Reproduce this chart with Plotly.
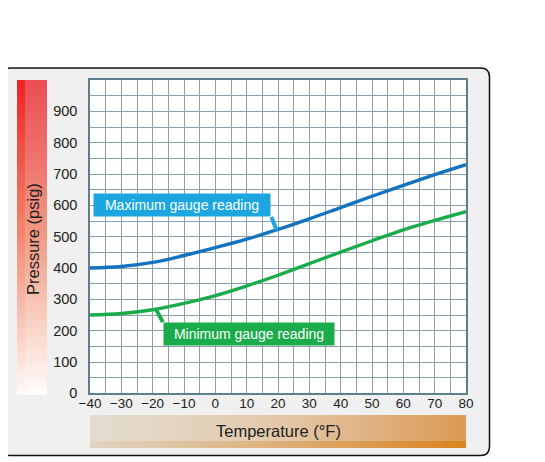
import numpy as np
import plotly.graph_objects as go

# chart data
temps_f = [-40, -30, -20, -10, 0, 10, 20, 30, 40, 50, 60, 70, 80]
max_gauge = [400, 405, 418, 440, 465, 492, 523, 557, 593, 629, 664, 698, 730]
min_gauge = [250, 255, 267, 287, 312, 343, 377, 414, 451, 487, 522, 552, 580]

x_ticks = [-40, -30, -20, -10, 0, 10, 20, 30, 40, 50, 60, 70, 80]
x_tick_labels = ["\u221240", "\u221230", "\u221220", "\u221210", "0", "10", "20",
                 "30", "40", "50", "60", "70", "80"]
y_ticks = [0, 100, 200, 300, 400, 500, 600, 700, 800, 900]
y_tick_labels = ["0", "100", "200", "300", "400", "500", "600", "700", "800", "900"]

W, H = 545, 462
OFF = 8  # the page body has an 8px margin, so layout positions are shifted back by it
FONT = "Liberation Sans, Arial, sans-serif"
GRID = "#8a9eab"
BLUE = "#1273c0"
BLUE_BOX = "#1ba6e0"
GREEN = "#1aab4b"


def px(x):
    return (x - OFF) / W


def py(y):
    return 1 - (y - OFF) / H


fig = go.Figure()

# the two curves
fig.add_trace(go.Scatter(x=temps_f, y=max_gauge, mode="lines", line=dict(color=BLUE, width=3.4, shape="spline"),
                         name="Maximum gauge reading", hoverinfo="skip"))
fig.add_trace(go.Scatter(x=temps_f, y=min_gauge, mode="lines", line=dict(color=GREEN, width=3.4, shape="spline"),
                         name="Minimum gauge reading", hoverinfo="skip"))

# gradient bars behind the axis titles: main part uses z in [0,1],
# the saturated strip uses z in [1.2,2.2] so the two ranges never blend
n = 80
t = np.linspace(0, 1, n)
zmax = 2.2
s0 = 1.2 / zmax
m1 = 1 / zmax

z_red = np.column_stack([1.2 + t, t])
fig.add_trace(go.Heatmap(
    z=z_red, x=[0, 8, 30], y=np.linspace(0, 1, n + 1), xaxis="x2", yaxis="y2",
    zmin=0, zmax=zmax, showscale=False, hoverinfo="skip",
    colorscale=[[0, "#fffcfb"], [0.2 * m1, "#fad6ca"], [0.5 * m1, "#f29b85"], [m1, "#eb4e55"],
                [s0, "#fff8f6"], [s0 + 0.5 * (1 - s0), "#f28a70"], [1, "#ee2326"]]))

z_org = np.vstack([1.2 + t, t])
fig.add_trace(go.Heatmap(
    z=z_org, x=np.linspace(0, 1, n + 1), y=[0, 7, 33], xaxis="x3", yaxis="y3",
    zmin=0, zmax=zmax, showscale=False, hoverinfo="skip",
    colorscale=[[0, "#e4ddd1"], [0.5 * m1, "#e3c9aa"], [m1, "#dc9b57"],
                [s0, "#e0d4c2"], [s0 + 0.5 * (1 - s0), "#ddb07a"], [1, "#d9841f"]]))

# rounded frame
x0, x1, y0, y1, r = 1.5, 489.5, 68, 455.5, 9
frame = (f"M {px(x0 + r)},{py(y0)} L {px(x1 - r)},{py(y0)} Q {px(x1)},{py(y0)} {px(x1)},{py(y0 + r)} "
         f"L {px(x1)},{py(y1 - r)} Q {px(x1)},{py(y1)} {px(x1 - r)},{py(y1)} "
         f"L {px(x0 + r)},{py(y1)} Q {px(x0)},{py(y1)} {px(x0)},{py(y1 - r)} "
         f"L {px(x0)},{py(y0 + r)} Q {px(x0)},{py(y0)} {px(x0 + r)},{py(y0)} Z")
fig.add_shape(type="path", path=frame, xref="paper", yref="paper", layer="below",
              fillcolor="#eff0ef", line=dict(color="#111111", width=1.5))
fig.add_shape(type="rect", xref="x", yref="y", x0=-40, x1=80, y0=0, y1=1000, layer="below",
              fillcolor="white", line=dict(width=0))

# callouts
mx = 19.5
fig.add_annotation(x=mx, y=float(np.interp(mx, temps_f, max_gauge)), ax=-5, ay=-13,
                   text="Maximum gauge reading", showarrow=True, arrowhead=0, arrowwidth=4,
                   arrowcolor=BLUE_BOX, xanchor="right", yanchor="bottom", standoff=0,
                   bgcolor=BLUE_BOX, width=174, height=20, align="center",
                   font=dict(family=FONT, size=14, color="white"))
mn = -19
fig.add_annotation(x=mn, y=float(np.interp(mn, temps_f, min_gauge)), ax=7, ay=13,
                   text="Minimum gauge reading", showarrow=True, arrowhead=0, arrowwidth=4,
                   arrowcolor=GREEN, xanchor="left", yanchor="top", standoff=0,
                   bgcolor=GREEN, width=168, height=20, align="center",
                   font=dict(family=FONT, size=14, color="white"))

# axis titles inside the gradient bars
fig.add_annotation(x=px(33), y=py(239), xref="paper", yref="paper", text="Pressure (psig)",
                   xanchor="center", yanchor="middle", textangle=-90, showarrow=False,
                   font=dict(family=FONT, size=16.5, color="#222222"))
fig.add_annotation(x=px(278), y=py(431), xref="paper", yref="paper", text="Temperature (\u00b0F)",
                   xanchor="center", yanchor="middle", showarrow=False,
                   font=dict(family=FONT, size=16.5, color="#222222"))

fig.update_layout(
    width=W, height=H, margin=dict(l=0, r=0, t=0, b=0, pad=0, autoexpand=False),
    paper_bgcolor="white", plot_bgcolor="rgba(0,0,0,0)", showlegend=False,
    font=dict(family=FONT, color="#222222"),
    xaxis=dict(domain=[px(90), px(466)], range=[-40, 80], tickvals=x_ticks, ticktext=x_tick_labels,
               showgrid=True, gridcolor=GRID, gridwidth=1, zeroline=False, automargin=False,
               minor=dict(dtick=5, tick0=0, showgrid=True, gridcolor=GRID, gridwidth=1),
               showline=True, linecolor="#5f7e90", linewidth=1.5, mirror=True,
               tickfont=dict(size=13.5), ticks="", ticklabelstandoff=-3),
    yaxis=dict(domain=[py(393.4), py(80)], range=[0, 1000], tickvals=y_ticks, ticktext=y_tick_labels,
               showgrid=True, gridcolor=GRID, gridwidth=1, zeroline=False, automargin=False,
               minor=dict(dtick=50, tick0=0, showgrid=True, gridcolor=GRID, gridwidth=1),
               showline=True, linecolor="#5f7e90", linewidth=1.5, mirror=True,
               tickfont=dict(size=14.5), ticks="", ticklabelstandoff=8),
    xaxis2=dict(domain=[px(17), px(47)], anchor="y2", visible=False, range=[0, 30], fixedrange=True),
    yaxis2=dict(domain=[py(395), py(80)], anchor="x2", visible=False, range=[0, 1], fixedrange=True),
    xaxis3=dict(domain=[px(90), px(466)], anchor="y3", visible=False, range=[0, 1], fixedrange=True),
    yaxis3=dict(domain=[py(448), py(415)], anchor="x3", visible=False, range=[0, 33], fixedrange=True),
)

fig.write_html("out.html")
